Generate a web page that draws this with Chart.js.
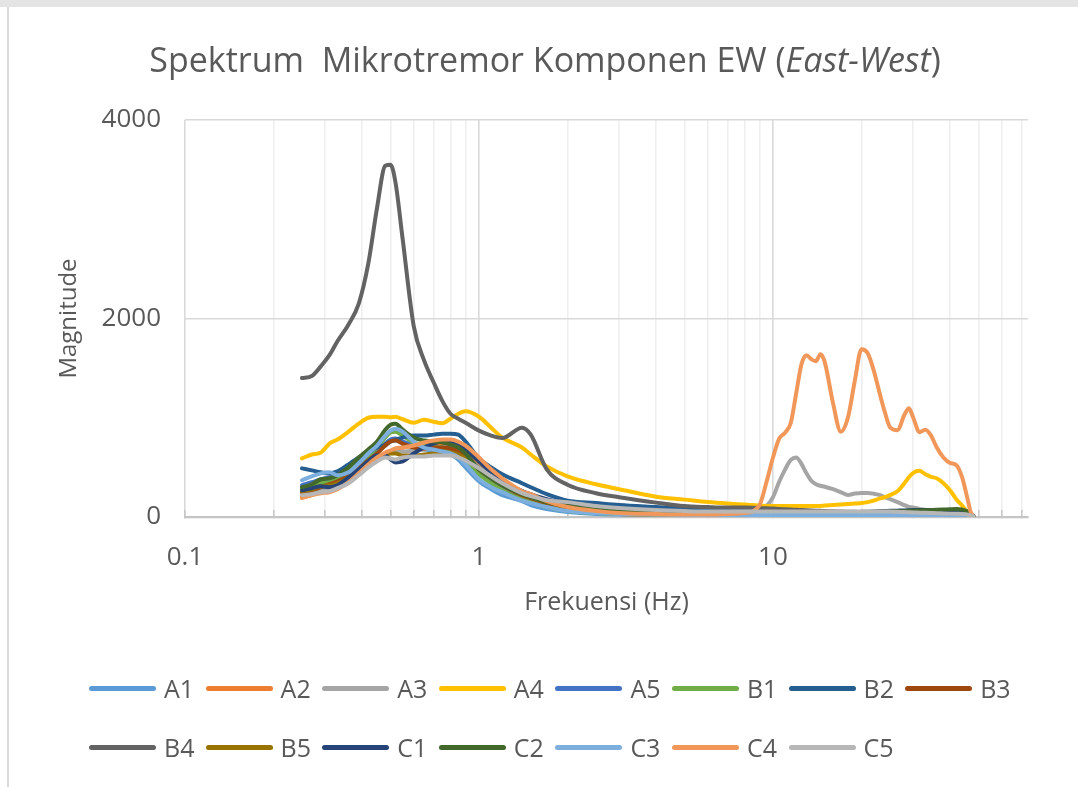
<!DOCTYPE html>
<html>
<head>
<meta charset="utf-8">
<script src="https://cdn.jsdelivr.net/npm/chart.js@4.4.1/dist/chart.umd.min.js"></script>
<style>
html,body{margin:0;padding:0;background:#fff;}
#wrap{position:relative;width:1078px;height:787px;overflow:hidden;font-family:"Open Sans",sans-serif;color:#595959;}
#topband{position:absolute;left:0;top:0;width:1078px;height:7px;background:#e4e4e4;}
#leftline{position:absolute;left:7px;top:7px;width:2px;height:780px;background:#d9d9d9;}
#title{position:absolute;left:0;top:36px;width:1090px;text-align:center;font-size:34px;line-height:46px;white-space:pre;}
#chart{position:absolute;left:0;top:0;}
#legend{position:absolute;left:89px;top:668px;display:grid;grid-template-columns:repeat(8,116.6px);row-gap:19px;}
.item{display:flex;align-items:center;height:40px;font-size:25px;white-space:nowrap;}
.sw{width:67px;height:5px;border-radius:3px;margin-right:8px;flex:none;}
</style>
</head>
<body>
<div id="wrap">
  <div id="topband"></div>
  <div id="leftline"></div>
  <canvas id="chart" width="1078" height="787"></canvas>
  <div id="title">Spektrum  Mikrotremor Komponen EW (<i>East-West</i>)</div>
  <div id="legend"></div>
</div>
<script>
// ---- data ----
const freq = [0.25,0.27,0.29,0.31,0.33,0.36,0.39,0.42,0.45,0.48,0.5,0.52,0.55,0.6,0.65,0.7,0.75,0.8,0.85,0.9,1,1.1,1.2,1.4,1.5,1.7,2,2.5,3,4,5,6,7,
  8,9,9.5,10,10.5,11,11.5,12,12.5,13,13.5,14,14.5,15,16,17,18,19,20,21,22,23,24,25,26.5,28,29,30,31.5,33,34.5,36,38,40,42,44,46,47,48];

const seriesNames = ['A1','A2','A3','A4','A5','B1','B2','B3','B4','B5','C1','C2','C3','C4','C5'];
const seriesColors = ['#5B9BD5','#ED7D31','#A5A5A5','#FFC000','#4472C4','#70AD47','#255E91','#9E480E','#636363','#997300','#264478','#43682B','#7CAFDD','#F1975A','#B7B7B7'];

const A1 = [300,330,350,360,390,450,530,600,660,720,760,770,740,700,680,670,660,630,580,500,360,280,220,160,120,80,50,30,25,20,20,20,20,
  18,17,17,16,16,16,16,16,16,16,16,16,16,16,16,16,15,15,15,15,15,15,15,15,15,14,14,14,14,14,13,13,12,12,11,10,8,6,4];
const A2 = [200,220,260,280,300,370,450,520,580,620,650,680,700,720,730,740,740,730,700,640,520,420,340,240,200,140,90,50,30,20,15,15,15,
  16,16,15,15,15,15,15,15,15,15,15,15,15,15,15,15,15,15,15,15,15,15,15,15,15,15,15,15,15,15,14,14,13,12,11,10,8,6,4];
const A3 = [240,250,280,300,330,390,470,540,600,640,650,660,660,670,680,690,690,680,650,610,500,420,350,260,220,170,130,90,65,55,50,50,55,
  60,90,110,200,355,480,575,600,535,440,365,330,315,305,280,250,222,236,242,242,235,222,200,180,150,120,102,95,82,72,65,58,52,48,40,32,22,15,10];
const A4 = [590,630,650,740,780,860,940,1000,1010,1010,1005,1010,985,950,980,960,945,990,1040,1065,1010,900,800,700,630,510,410,330,280,205,175,150,135,
  125,115,112,110,110,110,110,110,110,110,110,110,112,115,120,125,130,135,140,150,165,185,200,220,260,340,400,445,465,430,405,390,340,270,180,115,45,25,8];
const A5 = [320,350,380,400,420,480,560,620,680,740,780,790,760,720,700,700,700,690,660,600,470,380,310,210,180,130,90,60,45,35,30,30,30,
  28,27,27,26,26,26,25,25,25,25,25,25,25,25,25,25,25,24,24,24,24,24,24,24,24,24,24,24,23,23,23,22,22,21,20,18,14,10,6];
const B1 = [280,310,340,350,380,450,540,620,700,800,850,860,820,750,720,710,700,680,640,570,430,340,270,180,150,100,60,40,30,25,25,25,25,
  30,30,29,29,28,28,28,28,28,28,28,28,28,28,28,28,28,28,28,28,28,28,28,28,28,29,30,30,30,30,30,29,28,27,25,22,16,10,5];
const B2 = [490,470,450,440,460,530,600,650,700,730,760,780,800,820,820,830,840,840,830,760,590,500,430,340,300,230,165,140,120,100,85,70,60,
  55,50,48,47,46,45,45,44,44,44,44,44,44,43,43,43,42,42,42,42,42,42,42,42,42,43,44,45,45,45,44,43,42,40,36,30,22,15,8];
const B3 = [250,270,300,330,360,420,500,570,640,720,760,770,740,700,690,700,700,690,660,610,480,390,320,220,190,140,95,60,40,30,25,20,20,
  20,20,20,20,20,20,20,20,20,20,20,20,20,20,20,20,20,20,20,20,20,20,20,20,20,20,20,20,20,20,19,19,18,17,16,14,10,7,4];
const B4 = [1400,1420,1520,1630,1770,1940,2150,2550,3115,3540,3550,3370,2800,1920,1580,1360,1170,1040,990,950,870,820,795,900,830,480,325,240,200,145,110,100,95,
  95,90,88,85,80,78,75,72,70,68,66,64,62,60,58,55,53,52,50,50,48,47,46,45,44,43,42,42,41,40,40,40,38,36,33,28,20,14,8];
const B5 = [260,280,310,320,340,400,480,550,600,630,640,640,620,620,630,640,650,650,630,590,490,400,330,230,200,150,100,70,55,45,40,40,40,
  40,40,40,40,40,40,40,40,40,40,40,40,40,40,40,40,40,40,40,40,40,40,40,40,40,40,40,40,40,40,39,38,37,35,32,28,20,13,6];
const C1 = [270,290,310,300,320,400,480,560,620,620,580,550,560,640,700,740,760,760,740,680,560,450,370,260,230,180,130,90,70,55,50,50,50,
  50,50,50,50,50,50,50,50,50,50,50,50,50,50,50,50,50,50,52,54,56,58,60,62,64,66,68,70,70,70,70,68,66,62,58,50,38,25,12];
const C2 = [300,330,380,390,420,500,600,680,760,880,930,940,880,800,770,760,750,730,700,640,480,390,320,230,200,150,110,75,60,50,45,40,40,
  40,40,40,40,40,40,40,40,40,40,40,40,40,40,40,40,42,44,46,48,50,52,54,56,58,60,62,64,66,68,70,72,75,78,80,75,55,30,10];
const C3 = [370,410,440,450,420,450,540,640,720,820,870,890,860,760,700,680,660,640,600,530,380,300,250,165,140,100,60,40,30,25,20,20,20,
  20,20,20,20,20,20,20,20,20,20,20,20,20,20,20,20,20,20,20,20,20,20,20,20,20,20,20,20,20,20,19,19,18,17,16,14,10,7,4];
const C4 = [190,220,240,250,280,350,440,530,600,650,670,690,700,720,750,770,780,780,760,720,600,480,390,260,230,160,100,60,40,30,25,25,30,
  40,120,350,600,790,850,950,1250,1540,1630,1590,1570,1640,1560,1150,860,1005,1380,1690,1650,1480,1260,1060,905,875,1030,1095,1000,855,880,820,705,600,545,525,400,170,55,5];
const C5 = [220,230,250,260,290,340,420,500,560,600,590,580,600,610,610,620,620,620,600,570,490,410,340,240,210,170,150,110,90,70,60,55,55,
  55,55,55,55,55,55,55,55,55,55,55,55,55,55,55,55,55,55,55,55,55,55,55,55,52,50,48,46,44,42,40,38,36,34,32,30,24,16,8];

const seriesValues = [A1,A2,A3,A4,A5,B1,B2,B3,B4,B5,C1,C2,C3,C4,C5];

const xMajorTicks = [0.1, 1, 10];
const xTickLabels = ['0.1', '1', '10'];
const xAllTicks = [0.1,0.2,0.3,0.4,0.5,0.6,0.7,0.8,0.9,1,2,3,4,5,6,7,8,9,10,20,30,40,50,60,70];
const yTicks = [0, 2000, 4000];
const yTickLabels = ['0', '2000', '4000'];
const xMin = 0.1, xMax = 73.7;

// ---- chart ----
Chart.defaults.font.family = '"Open Sans", sans-serif';
Chart.defaults.color = '#595959';

const n = seriesNames.length;
const datasets = seriesNames.map((name, i) => ({
  label: name,
  data: freq.map((f, j) => ({x: f, y: seriesValues[i][j]})),
  borderColor: seriesColors[i],
  backgroundColor: seriesColors[i],
  borderWidth: 4,
  pointRadius: 0,
  fill: false,
  cubicInterpolationMode: 'monotone',
  borderCapStyle: 'round',
  borderJoinStyle: 'round',
  order: n - i
}));

new Chart(document.getElementById('chart'), {
  type: 'line',
  data: { datasets },
  options: {
    responsive: false,
    animation: false,
    layout: { padding: { left: 50, right: 50, top: 120, bottom: 165 } },
    plugins: { legend: { display: false }, title: { display: false }, tooltip: { enabled: false } },
    scales: {
      x: {
        type: 'logarithmic',
        min: xMin, max: xMax,
        afterBuildTicks: (s) => { s.ticks = xAllTicks.map(v => ({ value: v })); },
        afterFit: (s) => { s.height = 105; },
        ticks: {
          autoSkip: false, maxRotation: 0, padding: 32,
          font: { size: 26 },
          callback: (v) => { const k = xMajorTicks.indexOf(v); return k >= 0 ? xTickLabels[k] : ''; }
        },
        grid: {
          color: (c) => (c.tick && xMajorTicks.includes(c.tick.value)) ? '#d9d9d9' : '#efefef',
          lineWidth: 1.6,
          drawTicks: true,
          tickLength: -7,
          tickColor: '#c8c8c8',
          tickWidth: 1.6
        },
        border: { display: true, color: '#c4c4c4', width: 2.2 },
        title: { display: true, text: 'Frekuensi (Hz)', font: { size: 25 }, padding: { top: 0, bottom: 4 } }
      },
      y: {
        min: 0, max: 4000,
        afterBuildTicks: (s) => { s.ticks = yTicks.map(v => ({ value: v })); },
        afterFit: (s) => { s.width = 135; },
        ticks: {
          padding: 24, font: { size: 26 },
          callback: (v) => { const k = yTicks.indexOf(v); return k >= 0 ? yTickLabels[k] : ''; }
        },
        grid: { color: '#d9d9d9', lineWidth: 1.6, drawTicks: false },
        border: { display: false },
        title: { display: true, text: 'Magnitude', font: { size: 24 }, padding: { top: 5, bottom: 0 } }
      }
    }
  }
});

// ---- legend (HTML, built from the series) ----
const leg = document.getElementById('legend');
seriesNames.forEach((name, i) => {
  const it = document.createElement('div');
  it.className = 'item';
  const sw = document.createElement('span');
  sw.className = 'sw';
  sw.style.background = seriesColors[i];
  const tx = document.createElement('span');
  tx.textContent = name;
  it.appendChild(sw); it.appendChild(tx);
  leg.appendChild(it);
});
</script>
</body>
</html>
